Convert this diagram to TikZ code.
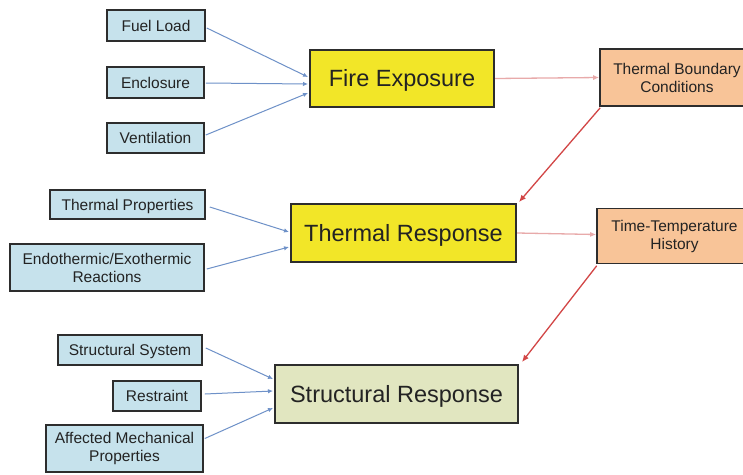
\documentclass[tikz,border=0pt]{standalone}
\usepackage{fontspec}
\setmainfont{Liberation Sans}
\usetikzlibrary{arrows.meta,calc}
\definecolor{bluebox}{RGB}{198,226,236}
\definecolor{yellowbox}{RGB}{242,230,40}
\definecolor{orangebox}{RGB}{248,196,152}
\definecolor{olivebox}{RGB}{225,230,192}
\definecolor{boxborder}{RGB}{45,45,45}
\definecolor{bluearrow}{RGB}{110,145,200}
\definecolor{pinkarrow}{RGB}{232,170,170}
\definecolor{redarrow}{RGB}{210,70,70}
\definecolor{textcol}{RGB}{35,35,35}
\tikzset{
  smallbox/.style={draw=boxborder,line width=1.6pt,fill=bluebox,inner sep=0pt,align=center,
    text=textcol,font=\fontsize{15.5}{18}\selectfont},
  bigbox/.style={draw=boxborder,line width=2pt,inner sep=0pt,align=center,
    text=textcol,font=\fontsize{23.5}{26}\selectfont},
  outbox/.style={draw=boxborder,line width=1.6pt,fill=orangebox,inner sep=0pt,align=center,
    text=textcol,font=\fontsize{15.5}{18}\selectfont},
  capsmall/.style={text height=11.1pt,text depth=0pt},
  capbig/.style={text height=16.8pt,text depth=0pt},
  bluelink/.style={draw=bluearrow,line width=1pt,-{Latex[length=5pt,width=4.5pt]}},
  pinklink/.style={draw=pinkarrow,line width=1.3pt,-{Latex[length=6pt,width=5pt]}},
  redlink/.style={draw=redarrow,line width=1.3pt,-{Latex[length=7pt,width=6pt]}}
}
\begin{document}
\begin{tikzpicture}[x=1pt,y=-1pt]
\useasboundingbox[fill=white] (0,0) rectangle (743,474);
\clip (0,0) rectangle (743,474);
% inputs to fire exposure
\node[smallbox,capsmall,minimum width=98pt,minimum height=31pt] (fl) at (156,25.5) {Fuel Load};
\node[smallbox,capsmall,minimum width=97pt,minimum height=31pt] (en) at (155.5,82.5) {Enclosure};
\node[smallbox,capsmall,minimum width=97pt,minimum height=30pt] (ve) at (155.5,138) {Ventilation};
\node[bigbox,capbig,fill=yellowbox,minimum width=184pt,minimum height=57pt] (fe) at (402,78.5) {Fire Exposure};
\node[outbox,minimum width=154pt,minimum height=57pt] (tbc) at (677,77.5) {Thermal Boundary\\Conditions};
% thermal
\node[smallbox,capsmall,minimum width=155pt,minimum height=29pt] (tp) at (127.5,204.5) {Thermal Properties};
\node[smallbox,minimum width=194pt,minimum height=47pt] (ex) at (107,267.5) {Endothermic/Exothermic\\Reactions};
\node[bigbox,capbig,fill=yellowbox,minimum width=225pt,minimum height=58pt] (tr) at (403.5,233) {Thermal Response};
\node[outbox,minimum width=155pt,minimum height=55pt] (tth) at (674.5,236) {Time-Temperature\\History};
% structural
\node[smallbox,capsmall,minimum width=144pt,minimum height=30pt] (ss) at (130,350) {Structural System};
\node[smallbox,capsmall,minimum width=88pt,minimum height=30pt] (re) at (157,396) {Restraint};
\node[smallbox,minimum width=157pt,minimum height=47pt] (am) at (124.5,448.5) {Affected Mechanical\\Properties};
\node[bigbox,capbig,fill=olivebox,minimum width=243pt,minimum height=58pt] (sr) at (396.5,394) {Structural Response};
% links
\draw[bluelink] ($(fl.east)+(1,2.5)$) -- ($(fe.west)+(-1,-1.5)$);
\draw[bluelink] ($(en.east)+(1,0.5)$) -- ($(fe.west)+(-1,5.5)$);
\draw[bluelink] ($(ve.east)+(1,-3)$) -- ($(fe.west)+(-1,14.5)$);
\draw[pinklink] (fe.east) -- ($(tbc.west)+(0,0)$);
\draw[redlink] ($(tbc.south west)+(1,1)$) -- ($(tr.north east)+(2,-1)$);
\draw[bluelink] ($(tp.east)+(4,2.5)$) -- ($(tr.west)+(-1,-1)$);
\draw[bluelink] ($(ex.east)+(2,1.5)$) -- ($(tr.west)+(-1,14)$);
\draw[pinklink] (tr.east) -- ($(tth.west)+(0,-1.5)$);
\draw[redlink] ($(tth.south west)+(0.5,1.5)$) -- ($(sr.north east)+(3,-2)$);
\draw[bluelink] ($(ss.east)+(3,-2)$) -- ($(sr.west)+(-1,-15)$);
\draw[bluelink] ($(re.east)+(3,-2)$) -- ($(sr.west)+(-1,-3)$);
\draw[bluelink] ($(am.east)+(1,-10)$) -- ($(sr.west)+(-1,14)$);
\end{tikzpicture}
\end{document}
